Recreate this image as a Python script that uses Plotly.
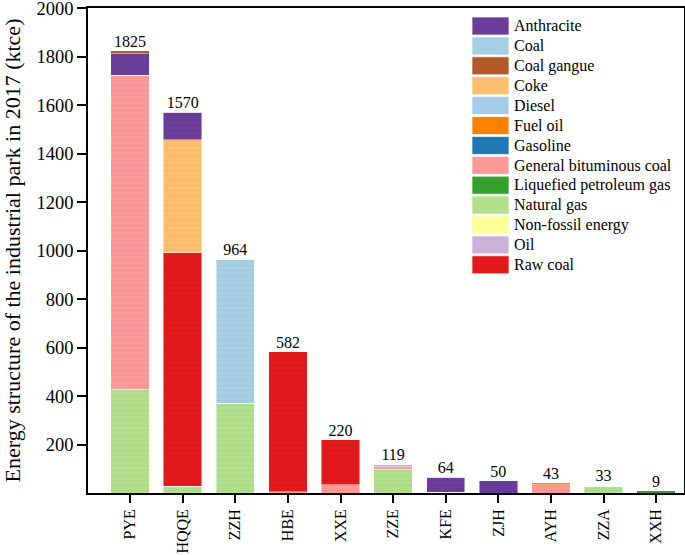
import plotly.graph_objects as go

parks = ["PYE", "HQQE", "ZZH", "HBE", "XXE", "ZZE", "KFE", "ZJH", "AYH", "ZZA", "XXH"]

energy_types = ["Anthracite", "Coal", "Coal gangue", "Coke", "Diesel", "Fuel oil", "Gasoline",
                "General bituminous coal", "Liquefied petroleum gas", "Natural gas",
                "Non-fossil energy", "Oil", "Raw coal"]
colors = ["#6a3d9a", "#a6cee3", "#b15928", "#fdbf6f", "#a6cbe6", "#ff7f00", "#1f78b4",
          "#fb9a99", "#33a02c", "#b2df8a", "#ffff99", "#cab2d6", "#e31a1c"]

# values per energy type, in order of parks (ktce)
natural_gas = [427, 28, 370, 0, 0, 97, 0, 0, 0, 28, 0]
general_bituminous = [1296, 0, 0, 5, 35, 12, 3, 0, 34, 0, 0]
raw_coal = [0, 964, 0, 577, 185, 0, 0, 0, 0, 0, 0]
coke = [0, 466, 0, 0, 0, 0, 0, 0, 0, 0, 0]
coal = [0, 0, 594, 0, 0, 0, 0, 0, 0, 0, 0]
anthracite = [88, 112, 0, 0, 0, 0, 61, 50, 0, 0, 0]
coal_gangue = [14, 0, 0, 0, 0, 0, 0, 0, 0, 0, 0]
oil = [0, 0, 0, 0, 0, 10, 0, 0, 0, 0, 0]
fuel_oil = [0, 0, 0, 0, 0, 0, 0, 0, 9, 0, 0]
non_fossil = [0, 0, 0, 0, 0, 0, 0, 0, 0, 5, 0]
lpg = [0, 0, 0, 0, 0, 0, 0, 0, 0, 0, 9]
diesel = [0] * 11
gasoline = [0] * 11

series = {
    "Anthracite": anthracite, "Coal": coal, "Coal gangue": coal_gangue, "Coke": coke,
    "Diesel": diesel, "Fuel oil": fuel_oil, "Gasoline": gasoline,
    "General bituminous coal": general_bituminous, "Liquefied petroleum gas": lpg,
    "Natural gas": natural_gas, "Non-fossil energy": non_fossil, "Oil": oil, "Raw coal": raw_coal,
}
# stacking order bottom -> top
stack_order = ["Natural gas", "General bituminous coal", "Raw coal", "Coal", "Diesel", "Coke",
               "Liquefied petroleum gas", "Gasoline", "Fuel oil", "Oil", "Non-fossil energy",
               "Anthracite", "Coal gangue"]
color_of = dict(zip(energy_types, colors))

FONT = "Liberation Serif"
fig = go.Figure()
for name in stack_order:
    fig.add_trace(go.Bar(
        x=parks, y=series[name], name=name, width=0.73,
        marker=dict(color=color_of[name],
                    line=dict(color="rgba(255,255,255,0.55)", width=0.8),
                    pattern=dict(shape="-", fgcolor="rgba(0,0,0,1)", fgopacity=0.04, size=5, solidity=0.2)),
        showlegend=False, hoverinfo="x+y+name",
    ))

totals = [sum(series[n][i] for n in energy_types) for i in range(len(parks))]
fig.add_trace(go.Scatter(
    x=parks, y=totals, mode="text", text=[str(t) for t in totals],
    textposition="top center", textfont=dict(family=FONT, size=16, color="black"),
    showlegend=False, hoverinfo="skip", cliponaxis=False,
))

# custom legend (large swatches)
L, R, T, B = 88, 684, 8, 493
pw, ph = R - L, B - T
shapes, annos = [], []
for i, name in enumerate(energy_types):
    yc = 26 + 19.9 * i
    y0 = (B - (yc + 9)) / ph
    y1 = (B - (yc - 9)) / ph
    shapes.append(dict(type="rect", xref="paper", yref="paper",
                       x0=(472 - L) / pw, x1=(509 - L) / pw, y0=y0, y1=y1,
                       fillcolor=color_of[name], line=dict(color="rgba(255,255,255,0.7)", width=1)))
    annos.append(dict(xref="paper", yref="paper", x=(512 - L) / pw, y=(B - yc) / ph,
                      text=name, showarrow=False, xanchor="left", yanchor="middle",
                      font=dict(family=FONT, size=16, color="black")))

fig.update_layout(
    barmode="stack", width=685, height=555,
    margin=dict(l=L, r=685 - R, t=T, b=555 - B, autoexpand=False),
    plot_bgcolor="white", paper_bgcolor="white",
    font=dict(family=FONT, color="black"),
    bargap=0.27, shapes=shapes, annotations=annos,
)
fig.update_xaxes(
    range=[-0.8, 10.53], showline=True, linecolor="black", linewidth=1.5, mirror=True,
    ticks="outside", ticklen=8, tickcolor="black", tickwidth=1.5, tickangle=-90,
    tickfont=dict(family=FONT, size=16), showgrid=False, automargin=False,
)
fig.update_yaxes(
    range=[0, 2000.5], tickvals=list(range(200, 2001, 200)), showline=True, linecolor="black",
    linewidth=1.5, mirror=True, ticks="outside", ticklen=9, tickcolor="black", tickwidth=1.5,
    tickfont=dict(family=FONT, size=18.5), showgrid=False, zeroline=False, automargin=False,
    ticklabeloverflow="allow",
    title=dict(text="Energy structure of the industrial park in 2017 (ktce)",
               font=dict(family=FONT, size=22), standoff=10),
)
fig.write_html("out.html", config={"displayModeBar": False},
               post_script="document.body.style.margin='0';document.body.style.overflow='hidden';")
